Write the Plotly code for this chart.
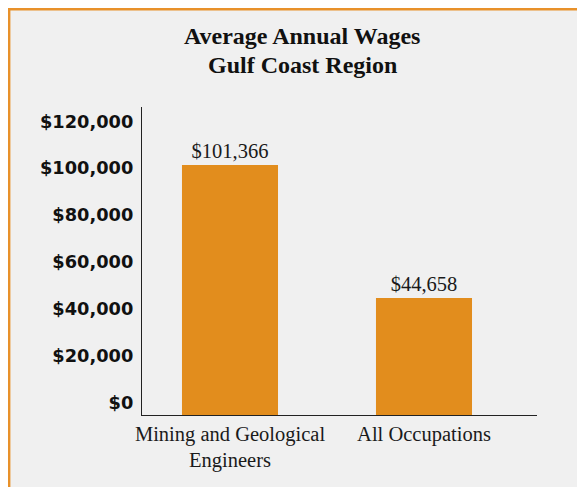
import plotly.graph_objects as go

# ---- data ----
categories = ["Mining and Geological<br>Engineers", "All Occupations"]
wages = [101366, 44658]
value_labels = ["$101,366", "$44,658"]
tick_vals = [0, 20000, 40000, 60000, 80000, 100000, 120000]
tick_text = ["$0", "$20,000", "$40,000", "$60,000", "$80,000", "$100,000", "$120,000"]
title_lines = ["Average Annual Wages", "Gulf Coast Region"]

# ---- layout constants (figure pixels) ----
W, H = 577, 479
L, R, T, B = 134, 48, 99, 72
Y_FLOOR, Y_TOP = -5200, 126100
BAR_COLOR = "#E28D1D"
BORDER_COLOR = "#E8912A"
BG = "#F0F0F0"
SERIF = "Liberation Serif, Times New Roman, serif"
SANS = "DejaVu Sans, Arial, sans-serif"

pw, ph = W - L - R, H - T - B


def px_to_paper_x(px):
    return (px - L) / pw


def px_to_paper_y(py):
    return (H - B - py) / ph


fig = go.Figure()
fig.add_trace(go.Bar(
    x=categories,
    y=[v - Y_FLOOR for v in wages],
    base=Y_FLOOR,
    width=0.495,
    marker=dict(color=BAR_COLOR, line=dict(width=0)),
    text=value_labels,
    textposition="outside",
    textfont=dict(family=SERIF, size=20.5, color="#1a1a1a"),
    cliponaxis=False,
    hoverinfo="skip",
))

# border + background panel
fig.add_shape(
    type="rect", xref="paper", yref="paper",
    x0=px_to_paper_x(1.0), x1=px_to_paper_x(W + 20),
    y0=px_to_paper_y(1.0), y1=px_to_paper_y(H + 20),
    fillcolor=BG, line=dict(color=BORDER_COLOR, width=2.8), layer="below",
)

for line, cy in zip(title_lines, [28.0, 57.0]):
    fig.add_annotation(
        text="<b>%s</b>" % line, xref="paper", yref="paper",
        x=px_to_paper_x(294), y=px_to_paper_y(cy),
        xanchor="center", yanchor="middle", showarrow=False,
        font=dict(family=SERIF, size=24, color="#111111"),
    )

fig.update_layout(
    width=W, height=H,
    margin=dict(l=L, r=R, t=T, b=B, pad=0),
    paper_bgcolor="white",
    plot_bgcolor="rgba(0,0,0,0)",
    showlegend=False,
)
fig.update_xaxes(
    range=[-0.4536, 1.5825],
    showline=True, linecolor="#222222", linewidth=1.3,
    showgrid=False, zeroline=False, ticks="",
    tickfont=dict(family=SERIF, size=20.5, color="#1a1a1a"),
)
fig.update_yaxes(
    range=[Y_FLOOR, Y_TOP],
    tickvals=tick_vals, ticktext=tick_text,
    showline=True, linecolor="#222222", linewidth=1.3,
    showgrid=False, zeroline=False, ticks="",
    ticklabelstandoff=4,
    tickfont=dict(family=SANS, size=17.8, color="#111111", weight="bold"),
)

fig.write_html("out.html")
